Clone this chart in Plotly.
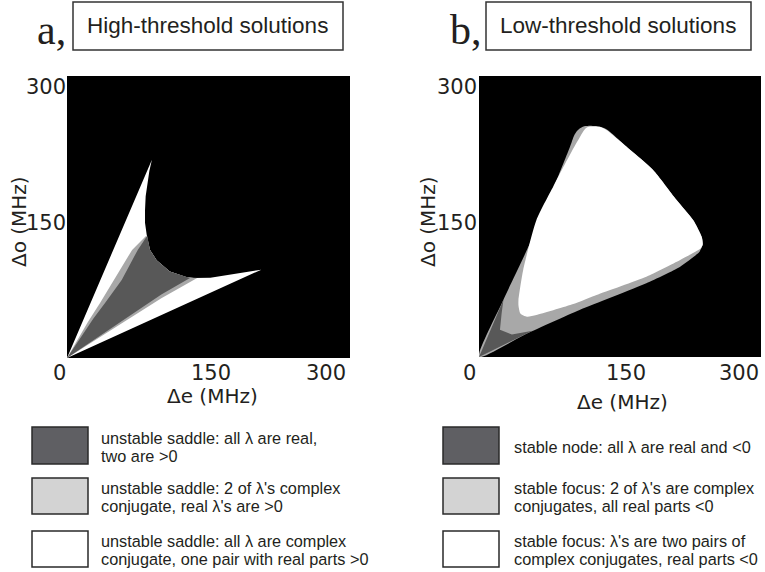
import plotly.graph_objects as go

W, H = 765, 572


def px(x):
    return x / W


def py(y):
    return 1 - y / H


# ---------------- data: region boundaries in (Δe, Δo) MHz ----------------
# Panel a (high-threshold solutions)
a_white_e = [0, 90, 87.3, 85.1, 83.4, 82.7, 82.7, 84.5, 88, 95, 109, 127, 134, 152, 176, 206, 0]
a_white_o = [0, 211, 199, 186, 172, 157, 144, 131, 115, 104, 92, 86, 85, 85.4, 89.4, 94, 0]

a_light_e = [0, 22, 35, 50, 69, 84, 88, 95, 109, 127, 138, 100, 50, 0]
a_light_o = [0, 38, 58.5, 83, 115, 130, 115, 104, 92, 86, 85, 63.5, 31.5, 0]

a_dark_e = [0, 28, 40.3, 58, 75, 85, 88, 95, 109, 127, 130.4, 100, 50, 0]
a_dark_o = [0, 42, 58.5, 83, 115, 130, 115, 104, 92, 86, 85.2, 67.5, 34, 0]

# Panel b (low-threshold solutions)
b_light_e = [0, 26, 61, 97, 101, 104, 108, 113, 118, 124, 130, 136, 161, 185, 210, 228, 237,
             238, 235, 233, 214, 178, 107, 50, 0]
b_light_o = [0, 61, 136, 225, 236, 241, 244.5, 246.5, 247, 246.5, 245.5, 243, 221, 200, 168,
             146, 128, 120, 113, 110.7, 96.4, 78.7, 50.2, 24.5, 0]

b_white_e = [108, 111, 114, 118, 124, 129, 136, 161, 185, 210, 228, 237, 238, 236, 233, 214,
             178, 125, 107, 97, 61, 51, 44, 42, 42, 47, 61, 79, 100, 108]
b_white_o = [236, 241, 244.5, 246, 246, 245.5, 242, 221, 200, 168, 146, 128, 120, 116, 114,
             103.6, 85.7, 66.2, 59, 55.5, 44.8, 43, 46.5, 55, 61, 93, 146, 182, 222, 236]

b_dark_e = [0, 26, 24, 22.3, 35, 57, 0]
b_dark_o = [0, 61, 46, 29, 24, 28, 0]

tick_vals = [0, 150, 300]
tick_text = ["0", "150", "300"]

legend_a = [
    ["unstable saddle: all λ are real,", "two are >0"],
    ["unstable saddle: 2 of λ's complex", "conjugate, real λ's are >0"],
    ["unstable saddle: all λ are complex", "conjugate, one pair with real parts >0"],
]
legend_b = [
    ["stable node: all λ are real and <0"],
    ["stable focus: 2 of λ's are complex", "conjugates, all real parts <0"],
    ["stable focus: λ's are two pairs of", "complex conjugates, real parts <0"],
]

DARK = "#585858"
LIGHT = "#a8a8a8"
WHITE = "#ffffff"
LEG_FILLS = ["#5f5f63", "#d3d3d3", "#ffffff"]
TXT = "#231f20"
FONT = "Liberation Sans, Arial, sans-serif"
AXFONT = "DejaVu Sans, Liberation Sans, sans-serif"

fig = go.Figure()


def region(xs, ys, color, xa, ya, smooth):
    line = dict(width=0, color=color)
    if smooth:
        line.update(shape="spline", smoothing=0.6)
    fig.add_trace(go.Scatter(
        x=xs, y=ys, mode="lines", fill="toself", fillcolor=color, line=line,
        hoverinfo="skip", showlegend=False, xaxis=xa, yaxis=ya,
    ))


region(a_white_e, a_white_o, WHITE, "x", "y", False)
region(a_light_e, a_light_o, LIGHT, "x", "y", False)
region(a_dark_e, a_dark_o, DARK, "x", "y", False)

region(b_light_e, b_light_o, LIGHT, "x2", "y2", True)
region(b_white_e, b_white_o, WHITE, "x2", "y2", True)
region(b_dark_e, b_dark_o, DARK, "x2", "y2", False)

ax_common = dict(range=[0, 300], showgrid=False, zeroline=False, showticklabels=False,
                 ticks="", showline=False, fixedrange=True)

fig.update_layout(
    width=W, height=H,
    margin=dict(l=0, r=0, t=0, b=0),
    paper_bgcolor="white",
    plot_bgcolor="black",
    xaxis=dict(domain=[px(67), px(350)], anchor="y", **ax_common),
    yaxis=dict(domain=[py(358), py(76)], anchor="x", **ax_common),
    xaxis2=dict(domain=[px(479), px(761)], anchor="y2", **ax_common),
    yaxis2=dict(domain=[py(357), py(76)], anchor="x2", **ax_common),
    showlegend=False,
)

annotations = []
shapes = []


def text(x, y, s, size, xanchor="center", yanchor="middle", xref="paper", yref="paper",
         xshift=0, yshift=0, angle=0, family=FONT, align="left"):
    annotations.append(dict(
        x=x, y=y, xref=xref, yref=yref, text=s, showarrow=False,
        xanchor=xanchor, yanchor=yanchor, xshift=xshift, yshift=yshift,
        textangle=angle, align=align, borderpad=0,
        font=dict(family=family, size=size, color=TXT),
    ))


# Panel headers
text(px(52), py(30), "a,", 42, family="Liberation Serif, Times New Roman, serif")
text(px(466), py(30), "b,", 42, family="Liberation Serif, Times New Roman, serif")
shapes.append(dict(type="rect", xref="paper", yref="paper",
                   x0=px(73), x1=px(343), y0=py(50), y1=py(2),
                   line=dict(color="#333333", width=1.5), fillcolor="white"))
shapes.append(dict(type="rect", xref="paper", yref="paper",
                   x0=px(486), x1=px(751), y0=py(50), y1=py(2),
                   line=dict(color="#333333", width=1.5), fillcolor="white"))
text(px(208), py(26), "High-threshold solutions", 22.5)
text(px(618), py(26), "Low-threshold solutions", 22.5)

# Tick labels
x_tick_cfg = {
    "x": [("right", 0), ("center", 2), ("right", -3)],
    "x2": [("right", -2), ("center", 6), ("right", -1)],
}
for xa, cfg in x_tick_cfg.items():
    for v, t, (anc, sh) in zip(tick_vals, tick_text, cfg):
        text(v, py(373), t, 21, xanchor=anc, xref=xa, xshift=sh, family=AXFONT)

for ya, left in (("y", 67), ("y2", 478)):
    text(px(left), 300, tick_text[2], 21, xanchor="right", yanchor="top", yref=ya, yshift=2,
         family=AXFONT)
    text(px(left), 150, tick_text[1], 21, xanchor="right", yref=ya, yshift=-6, family=AXFONT)

# Axis titles
text(px(212), py(396), "Δe (MHz)", 20, family=AXFONT)
text(px(622), py(402), "Δe (MHz)", 20, family=AXFONT)
text(px(19), py(222), "Δo (MHz)", 20, angle=-90, family=AXFONT)
text(px(428), py(222), "Δo (MHz)", 20, angle=-90, family=AXFONT)

# Legends
box_rows = [(427, 464), (478, 514), (531, 567)]
for (bx0, bx1, tx), labels in (((32, 88, 100), legend_a), ((443, 499, 513), legend_b)):
    for (y0, y1), fill, lines in zip(box_rows, LEG_FILLS, labels):
        shapes.append(dict(type="rect", xref="paper", yref="paper",
                           x0=px(bx0), x1=px(bx1), y0=py(y1), y1=py(y0),
                           line=dict(color="#2a2a2a", width=1.5), fillcolor=fill))
        mid = (y0 + y1) / 2 + 1
        n = len(lines)
        for i, line in enumerate(lines):
            yc = mid + (i - (n - 1) / 2) * 18
            text(px(tx), py(yc), line, 16.3, xanchor="left")

fig.update_layout(annotations=annotations, shapes=shapes)
fig.write_html("out.html")
